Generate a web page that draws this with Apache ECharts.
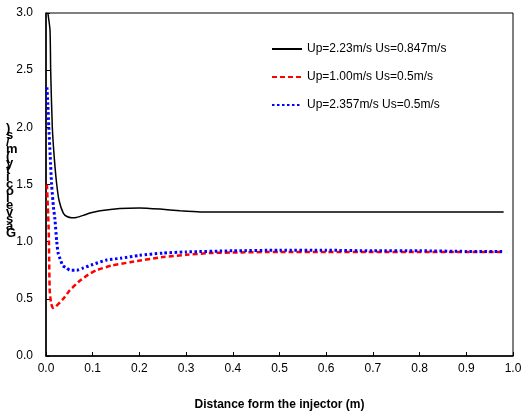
<!DOCTYPE html>
<html>
<head>
<meta charset="utf-8">
<script src="https://cdn.jsdelivr.net/npm/echarts@6/dist/echarts.min.js"></script>
<style>
html,body{margin:0;padding:0;background:#fff;}
#chart{width:523px;height:413px;}
</style>
</head>
<body>
<div id="chart"></div>
<script>
var seriesNames = ['Up=2.23m/s Us=0.847m/s', 'Up=1.00m/s Us=0.5m/s', 'Up=2.357m/s Us=0.5m/s'];
var xTitle = 'Distance form the injector (m)';
var yTitle = 'Gas velocity (m/s)';

var blackX = [0.004, 0.0086, 0.010, 0.0135, 0.018, 0.023, 0.028, 0.037, 0.045, 0.055, 0.065, 0.08, 0.094, 0.116, 0.158, 0.2, 0.244, 0.287, 0.33, 0.36, 0.4, 0.5, 0.6, 0.7, 0.8, 0.9, 0.98];
var blackY = [3.0, 2.85, 2.5, 2.0, 1.72, 1.5, 1.36, 1.25, 1.22, 1.21, 1.212, 1.23, 1.25, 1.27, 1.29, 1.295, 1.285, 1.27, 1.26, 1.26, 1.26, 1.26, 1.26, 1.26, 1.26, 1.26, 1.26];

var redX = [0.002, 0.004, 0.006, 0.007, 0.008, 0.011, 0.015, 0.02, 0.03, 0.037, 0.05, 0.073, 0.09, 0.108, 0.14, 0.18, 0.25, 0.3, 0.35, 0.4, 0.5, 0.6, 0.7, 0.8, 0.9, 0.98];
var redY = [1.5, 1.3, 1.07, 0.78, 0.57, 0.46, 0.42, 0.43, 0.47, 0.5, 0.57, 0.66, 0.71, 0.75, 0.79, 0.82, 0.865, 0.885, 0.9, 0.905, 0.91, 0.91, 0.91, 0.91, 0.91, 0.91];

var blueX = [0.002, 0.004, 0.006, 0.009, 0.012, 0.016, 0.019, 0.023, 0.026, 0.032, 0.036, 0.044, 0.051, 0.066, 0.08, 0.1, 0.13, 0.16, 0.2, 0.25, 0.3, 0.4, 0.5, 0.6, 0.7, 0.8, 0.9, 0.98];
var blueY = [2.35, 2.2, 2.0, 1.75, 1.5, 1.3, 1.2, 1.0, 0.9, 0.83, 0.79, 0.77, 0.75, 0.75, 0.77, 0.8, 0.84, 0.855, 0.88, 0.9, 0.91, 0.92, 0.925, 0.925, 0.92, 0.92, 0.915, 0.915];

function pairs(xs, ys) { return xs.map(function (x, i) { return [x, ys[i]]; }); }

var font = 'Arial, "Liberation Sans", sans-serif';
var chart = echarts.init(document.getElementById('chart'), null, {renderer: 'canvas'});

var yChars = yTitle.replace(/ /g, '').split('').reverse().join('\n');

chart.setOption({
  animation: false,
  backgroundColor: '#fff',
  textStyle: {fontFamily: font},
  grid: {left: 46, right: 10, top: 13, bottom: 57, show: true, borderColor: '#000', borderWidth: 1, containLabel: false, outerBoundsMode: 'none'},
  legend: {
    orient: 'vertical', left: 266, top: 38, itemWidth: 30, itemHeight: 12, itemGap: 16,
    data: seriesNames,
    textStyle: {fontFamily: font, fontSize: 12, color: '#000', padding: [0, 0, 0, 0]},
    itemStyle: {opacity: 0}
  },
  xAxis: {
    type: 'value', min: 0, max: 1, interval: 0.1,
    name: xTitle, nameLocation: 'middle', nameGap: 43,
    nameTextStyle: {fontFamily: font, fontSize: 12, fontWeight: 'bold', color: '#000'},
    axisLine: {show: true, lineStyle: {color: '#000', width: 1.5}},
    axisTick: {show: true, inside: true, length: 4, lineStyle: {color: '#000'}},
    axisLabel: {fontFamily: font, fontSize: 12, color: '#000', margin: 7, formatter: function (v) { return v.toFixed(1); }},
    splitLine: {show: false}
  },
  yAxis: {
    type: 'value', min: 0, max: 3, interval: 0.5,
    axisLine: {show: true, lineStyle: {color: '#000', width: 1.5}},
    axisTick: {show: true, inside: true, length: 4, lineStyle: {color: '#000'}},
    axisLabel: {fontFamily: font, fontSize: 12, color: '#000', margin: 13, formatter: function (v) { return v.toFixed(1); }},
    splitLine: {show: false}
  },
  graphic: [{
    type: 'text', left: 6, top: 122,
    style: {text: yChars, font: 'bold 13px ' + font, fill: '#000', lineHeight: 7, align: 'center'}
  }],
  series: [
    {name: seriesNames[0], type: 'line', data: pairs(blackX, blackY), symbol: 'none', smooth: 0.2,
     lineStyle: {color: '#000', width: 1.5, type: 'solid'}, itemStyle: {color: '#000'}},
    {name: seriesNames[1], type: 'line', data: pairs(redX, redY), symbol: 'none', smooth: 0.2,
     lineStyle: {color: '#ff0000', width: 2.5, type: [5, 3]}, itemStyle: {color: '#ff0000'}},
    {name: seriesNames[2], type: 'line', data: pairs(blueX, blueY), symbol: 'none', smooth: 0.2,
     lineStyle: {color: '#0000ff', width: 3, type: [2.5, 2.5]}, itemStyle: {color: '#0000ff'}}
  ]
});
</script>
</body>
</html>
